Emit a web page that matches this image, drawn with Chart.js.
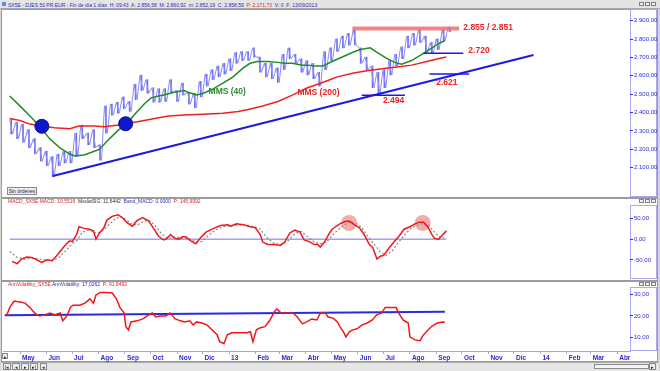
<!DOCTYPE html>
<html lang="es">
<head>
<meta charset="utf-8">
<title>SX5E - DJES 50 PR.EUR</title>
<script src="https://cdn.jsdelivr.net/npm/chart.js@4.4.1/dist/chart.umd.min.js"></script>
<style>
  html, body { margin: 0; padding: 0; }
  body {
    position: relative; width: 660px; height: 371px; overflow: hidden;
    background: #d6d6d6; font-family: 'Liberation Sans', Arial, sans-serif;
  }
  .box { position: absolute; box-sizing: border-box; }
  .panel { background: #fff; border: 1px solid #9c9c9c; }
  .axisbox { border: 1px solid #a9a9f4; }
  canvas { position: absolute; left: 0; }
  .head { position: absolute; left: 8px; font-size: 5px; line-height: 6px; white-space: nowrap; color: #2a2ac8; }
  .red { color: #e61e1e; }
  .dark { color: #303030; }
  .ico { position: absolute; width: 5px; height: 4px; border: 1px solid #808080; background: #f0f0f0; box-sizing: border-box; }
  .btn { position: absolute; box-sizing: border-box; border: 1px solid #8a8a8a; background: #ececec;
         font-size: 5px; line-height: 6px; text-align: center; color: #202060; }
</style>
</head>
<body>
<div class="box" style="left:0;top:0;width:660px;height:9px;background:#e4e4e4;border-bottom:1px solid #a8a8a8"></div>
<div class="box" style="left:2px;top:2px;width:4px;height:4px;background:#6a8ad0"></div>
<div class="box panel" style="left:1px;top:9px;width:657px;height:189px"></div>
<div class="box panel" style="left:1px;top:198px;width:657px;height:83px"></div>
<div class="box panel" style="left:1px;top:281px;width:657px;height:81px"></div>
<div class="box axisbox" style="left:630px;top:9px;width:27px;height:188px"></div>
<div class="box axisbox" style="left:630px;top:205px;width:27px;height:74px"></div>
<div class="box axisbox" style="left:630px;top:287px;width:27px;height:64px"></div>
<div class="box" style="left:1px;top:362px;width:658px;height:9px;background:#e6e6e6;border-top:1px solid #a8a8a8"></div>

<canvas id="cPrecio" width="660" height="188" style="top:9px"></canvas>
<canvas id="cMacd" width="660" height="82" style="top:198px"></canvas>
<canvas id="cVol" width="660" height="79" style="top:283px"></canvas>

<div class="head" style="top:2px">SX5E - DJES 50 PR.EUR - Fin de día 1 días&nbsp; H: 09:43&nbsp; A: 2.856,58&nbsp; M: 2.860,92&nbsp; m: 2.852,19&nbsp; C: 2.858,59&nbsp; <span class="red">P: 2.171,73</span>&nbsp; V: 0&nbsp; F: 13/09/2013</div>
<div class="head" style="top:198px"><span class="red">MACD_SX5E MACD: 19,5516</span>&nbsp; <span class="dark">MediaSIG: 11,6442</span>&nbsp; Band_MACD: 0,0000&nbsp; <span class="red">P: 145,9992</span></div>
<div class="head" style="top:281px"><span class="red">AnnVolatility_SX5E</span> AnnVolatility: 17,0262&nbsp; <span class="red">P: 91,9492</span></div>

<div class="ico" style="left:639px;top:2px"></div><div class="ico" style="left:645px;top:2px"></div><div class="ico" style="left:651px;top:2px"></div>
<div class="ico" style="left:639px;top:199px"></div><div class="ico" style="left:645px;top:199px"></div><div class="ico" style="left:651px;top:199px"></div>
<div class="ico" style="left:639px;top:282px"></div><div class="ico" style="left:645px;top:282px"></div><div class="ico" style="left:651px;top:282px"></div>

<div class="btn" style="left:7px;top:187px;width:30px;height:8px">Sin órdenes</div>
<div class="btn" style="left:2px;top:353px;width:6px;height:6px">▸</div>
<div class="btn" style="left:3px;top:363px;width:8px;height:7px">|◂</div>
<div class="btn" style="left:12px;top:363px;width:8px;height:7px">◂</div>
<div class="btn" style="left:21px;top:363px;width:8px;height:7px">▸</div>
<div class="btn" style="left:30px;top:363px;width:8px;height:7px">▸|</div>
<div class="btn" style="left:40px;top:363px;width:7px;height:7px">◂</div>
<div class="btn" style="left:594px;top:364px;width:55px;height:5px;background:#f4f4f4"></div>
<div class="btn" style="left:649px;top:363px;width:7px;height:7px">▸</div>

<script>
  // eje x en días desde el 13/04/2012
  const DAY0 = Date.UTC(2012, 3, 13);
  const X_MIN = -2, X_MAX = 733;

  const monthLabels = ['May', 'Jun', 'Jul', 'Ago', 'Sep', 'Oct', 'Nov', 'Dic', '13', 'Feb', 'Mar', 'Abr',
                       'May', 'Jun', 'Jul', 'Ago', 'Sep', 'Oct', 'Nov', 'Dic', '14', 'Feb', 'Mar', 'Abr'];
  const monthDays = monthLabels.map((_, i) => (Date.UTC(2012, 4 + i, 1) - DAY0) / 864e5);

  const priceTicks = [2100, 2200, 2300, 2400, 2500, 2600, 2700, 2800, 2900];
  const macdTicks = [-50, 0, 50];
  const volTicks = [10, 20, 30];

  // cotización: máximo y mínimo de cada semana (una lectura cada 7 días)
  const priceHigh = [2362, 2347, 2337, 2307, 2258, 2209, 2189, 2160, 2174, 2189,
                     2189, 2288, 2332, 2288, 2307, 2224, 2436, 2446, 2456, 2485,
                     2460, 2554, 2604, 2579, 2535, 2530, 2530, 2579, 2520, 2560,
                     2510, 2505, 2569, 2609, 2633, 2653, 2668, 2693, 2727, 2732,
                     2732, 2752, 2702, 2668, 2668, 2643, 2717, 2752, 2717, 2693,
                     2683, 2668, 2619, 2732, 2752, 2801, 2816, 2831, 2851, 2752,
                     2702, 2653, 2619, 2633, 2683, 2717, 2757, 2816, 2831, 2851,
                     2816, 2781, 2801, 2850, 2866];
  const priceLow = [2283, 2258, 2238, 2209, 2174, 2135, 2110, 2050, 2110, 2125,
                    2125, 2160, 2258, 2224, 2209, 2140, 2288, 2386, 2396, 2421,
                    2406, 2470, 2520, 2505, 2456, 2456, 2460, 2505, 2460, 2495,
                    2446, 2426, 2485, 2544, 2579, 2594, 2609, 2628, 2668, 2683,
                    2683, 2702, 2619, 2594, 2584, 2564, 2633, 2693, 2668, 2619,
                    2604, 2584, 2544, 2633, 2683, 2732, 2752, 2767, 2767, 2668,
                    2633, 2535, 2495, 2535, 2604, 2653, 2693, 2752, 2767, 2781,
                    2727, 2722, 2742, 2790, 2840];

  const mms40Days = [0, 12, 24, 36, 47, 59, 71, 77, 88, 100, 106, 118, 129, 138, 147, 159, 167, 176, 182, 194,
                     206, 211, 221, 229, 241, 252, 264, 276, 284, 293, 305, 317, 325, 334, 346, 352, 361, 370, 381, 393,
                     405, 413, 426, 434, 446, 455, 463, 475, 487, 499, 507, 514];
  const mms40Values = [2490, 2436, 2381, 2322, 2258, 2209, 2174, 2164, 2169, 2189, 2199, 2258, 2307, 2337, 2386, 2446, 2480, 2490, 2495, 2510,
                       2520, 2510, 2495, 2505, 2530, 2560, 2594, 2643, 2668, 2678, 2678, 2673, 2668, 2668, 2658, 2658, 2653, 2653, 2678, 2702,
                       2727, 2742, 2752, 2727, 2693, 2673, 2663, 2683, 2717, 2752, 2776, 2791];

  const mms200Days = [0, 12, 24, 36, 53, 71, 82, 100, 112, 129, 141, 159, 176, 188, 206, 229, 252, 270, 282, 299,
                      317, 334, 343, 352, 364, 376, 387, 405, 422, 440, 458, 475, 493, 506, 516];
  const mms200Values = [2367, 2357, 2337, 2327, 2317, 2312, 2327, 2327, 2322, 2332, 2342, 2357, 2372, 2381, 2386, 2391, 2396, 2406, 2416, 2436,
                        2460, 2495, 2515, 2535, 2554, 2574, 2594, 2614, 2628, 2638, 2648, 2658, 2678, 2693, 2702];

  // líneas dibujadas a mano sobre el gráfico
  const trendDays = [51, 619];
  const trendValues = [2054, 2713];
  const resistDays = [405, 531];
  const resistValues = [2858, 2858];
  const level2720Days = [489, 536];
  const level2720Values = [2723, 2723];
  const level2621Days = [496, 543];
  const level2621Values = [2610, 2610];
  const level2494Days = [416, 467];
  const level2494Values = [2494, 2494];
  const crossDays = [38, 137];
  const crossValues = [2325, 2339];

  const noteTexts = ['MMS (40)', 'MMS (200)', '2.855 / 2.851', '2.720', '2.621', '2.494'];
  const noteDays = [235, 340, 536, 542, 504, 441];
  const noteValues = [2512, 2507, 2861, 2738, 2561, 2467];
  const noteColors = ['#2e8b2e', '#ee2222', '#ee2222', '#ee2222', '#ee2222', '#ee2222'];

  const macdDays = [3, 9, 14, 20, 26, 32, 38, 44, 50, 55, 61, 67, 71, 74, 79, 82, 88, 94, 99, 102,
                    106, 111, 115, 121, 128, 133, 139, 145, 150, 157, 164, 170, 176, 182, 186, 190, 195, 200, 204, 208,
                    214, 220, 225, 232, 241, 249, 258, 261, 268, 276, 284, 290, 296, 299, 305, 313, 320, 325, 331, 337,
                    343, 348, 354, 360, 364, 367, 372, 378, 381, 390, 397, 402, 407, 413, 419, 425, 429, 434, 438, 442,
                    448, 454, 460, 466, 473, 479, 484, 489, 494, 499, 502, 507, 510, 516];
  const macdValues = [-54, -59, -48, -43, -44, -50, -56, -50, -52, -41, -26, -11, -4, -6, 11, 30, 26, 24, 20, 0,
                      15, 26, 46, 55, 59, 52, 39, 31, 44, 52, 44, 26, 7, -2, 2, 11, 2, 0, 6, 6,
                      -4, -11, 2, 17, 26, 33, 35, 31, 37, 35, 30, 28, 11, -7, -13, -13, -15, -7, 15, 22,
                      17, -2, -6, -13, -13, -19, -7, 15, 24, 37, 43, 43, 35, 28, 11, -13, -20, -48, -41, -39,
                      -22, -7, 7, 24, 30, 37, 41, 41, 30, 11, 2, 0, 7, 20];
  const signalDays = [0, 9, 18, 30, 41, 51, 59, 67, 74, 80, 86, 94, 102, 108, 115, 123, 130, 137, 145, 152,
                      159, 166, 173, 180, 188, 196, 203, 211, 220, 227, 235, 243, 252, 264, 276, 287, 296, 303, 311, 320,
                      329, 337, 344, 352, 360, 367, 375, 384, 393, 401, 409, 416, 423, 431, 438, 445, 452, 459, 466, 473,
                      481, 489, 496, 503, 510, 516];
  const signalValues = [-30, -44, -48, -46, -50, -52, -43, -26, -11, -2, 17, 22, 15, 17, 30, 46, 55, 48, 35, 35,
                        44, 44, 30, 11, 2, 6, 2, 2, -6, -6, 9, 22, 30, 33, 35, 31, 24, 6, -9, -13,
                        -4, 13, 19, 6, -7, -11, -6, 15, 31, 41, 39, 28, 7, -13, -31, -39, -28, -9, 9, 24,
                        33, 39, 31, 15, 2, 6];
  const bandDays = [0, 516];
  const bandValues = [0, 0];
  const peakDays = [401, 488];
  const peakValues = [39, 39];

  const volDays = [2, 6, 11, 18, 24, 30, 36, 41, 47, 53, 59, 65, 68, 73, 77, 80, 88, 94, 100, 104,
                   107, 112, 118, 126, 131, 135, 140, 142, 145, 148, 155, 162, 167, 173, 177, 182, 189, 194, 200, 206,
                   211, 217, 221, 225, 231, 237, 243, 249, 252, 257, 261, 266, 276, 284, 288, 291, 295, 299, 305, 311,
                   316, 319, 324, 331, 338, 343, 349, 354, 360, 366, 370, 376, 379, 385, 390, 393, 397, 400, 404, 408,
                   413, 419, 425, 431, 436, 442, 446, 454, 459, 461, 467, 473, 475, 481, 487, 490, 495, 501, 507, 513, 516];
  const volValues = [20, 24, 27, 26.5, 26, 23.7, 21, 20, 20.5, 21.4, 20.5, 21.4, 17.7, 20, 24, 25, 25, 26, 28, 26,
                     29.8, 31, 31, 30.7, 28, 24, 21.4, 15, 13.5, 17.2, 17.7, 18.6, 20, 21.4, 19.5, 20, 20, 21.4, 18.6, 17.7,
                     17.2, 17.7, 15.8, 17.2, 16.7, 15.8, 13.5, 11.2, 8, 7, 11.2, 12.1, 12.1, 12.1, 12.6, 8, 13.5, 14.4, 15, 18.1,
                     21.9, 23.3, 21.4, 21.4, 21.4, 19.5, 16.3, 17.2, 18.6, 18.1, 21.4, 21.4, 19.5, 19, 17.2, 15, 12.6, 10.2, 12.6, 13.5,
                     14, 15.8, 16.7, 18.1, 20.5, 21.4, 24, 24, 24, 21.9, 18.1, 16.7, 10.2, 8.8, 8.4, 10.7, 13, 15.3, 16.7, 17.2, 17];
  const volLineDays = [0, 516];
  const volLineValues = [20.3, 21.9];

  const AXIS_BLUE = '#2b2bd6';
  const LAVENDER = '#a3a3f2';
  Chart.defaults.font.family = "'Liberation Sans', Arial, sans-serif";

  function pts(days, values) {
    return days.map((d, i) => ({ x: d, y: values[i] }));
  }

  // barras semanales: zigzag máximo -> mínimo y una barra vertical por semana
  const pricePoints = [];
  const priceBars = [];
  priceHigh.forEach((h, i) => {
    pricePoints.push({ x: i * 7, y: h });
    pricePoints.push({ x: i * 7 + 3.5, y: priceLow[i] });
    priceBars.push({ x: i * 7 + 1.75, y: [priceLow[i], h] });
  });

  function fmtNum(v) {
    return Number(v).toLocaleString('de-DE', { minimumFractionDigits: 2, maximumFractionDigits: 2 });
  }

  function xScale(show) {
    return {
      type: 'linear', min: X_MIN, max: X_MAX, display: show, offset: false,
      afterBuildTicks: s => { s.ticks = monthDays.map(v => ({ value: v })); },
      afterFit: s => { s.height = 11; s.paddingLeft = 0; s.paddingRight = 0; },
      ticks: {
        autoSkip: false, maxRotation: 0, align: 'start', labelOffset: 2, padding: 0,
        color: AXIS_BLUE, font: { size: 6.5, weight: 'bold' },
        callback: (v, i) => monthLabels[i]
      },
      grid: { drawOnChartArea: false, tickLength: 3, color: LAVENDER, offset: false },
      border: { color: LAVENDER }
    };
  }

  function yScale(min, max, tickValues) {
    return {
      position: 'right', min, max,
      afterBuildTicks: s => { s.ticks = tickValues.map(v => ({ value: v })); },
      afterFit: s => { s.width = 27; s.paddingTop = 0; s.paddingBottom = 0; },
      ticks: { color: AXIS_BLUE, font: { size: 6 }, padding: 1, callback: v => fmtNum(v) },
      grid: { drawOnChartArea: false, tickLength: 3, color: AXIS_BLUE },
      border: { display: false }
    };
  }

  function baseOptions(yMin, yMax, yTicks, showX) {
    return {
      responsive: false, animation: false, devicePixelRatio: 1,
      layout: { padding: { left: 3, right: 3, top: 0, bottom: 0 } },
      elements: { point: { radius: 0, hitRadius: 0 }, line: { tension: 0, borderWidth: 1.5 } },
      plugins: { legend: { display: false }, tooltip: { enabled: false } },
      scales: { x: xScale(showX), y: yScale(yMin, yMax, yTicks) }
    };
  }

  const notesPlugin = {
    id: 'notes',
    afterDatasetsDraw(chart) {
      const { ctx } = chart;
      const xs = chart.scales.x, ys = chart.scales.y;
      ctx.save();
      ctx.textBaseline = 'middle';
      ctx.font = "bold 8.5px 'Liberation Sans', Arial, sans-serif";
      noteTexts.forEach((t, i) => {
        ctx.fillStyle = noteColors[i];
        ctx.fillText(t, xs.getPixelForValue(noteDays[i]), ys.getPixelForValue(noteValues[i]));
      });
      ctx.restore();
    }
  };

  // panel principal
  new Chart(document.getElementById('cPrecio'), {
    type: 'line',
    data: {
      datasets: [
        { label: 'Cruces', data: pts(crossDays, crossValues), showLine: false,
          pointRadius: 7, pointBackgroundColor: '#0b18cc', pointBorderColor: '#0a1090', pointBorderWidth: 1 },
        { label: 'Directriz', data: pts(trendDays, trendValues), borderColor: '#1a1ae6', borderWidth: 2 },
        { label: '2.494', data: pts(level2494Days, level2494Values), borderColor: '#1a1ae6', borderWidth: 1.5 },
        { label: '2.621', data: pts(level2621Days, level2621Values), borderColor: '#1a1ae6', borderWidth: 1.5 },
        { label: '2.720', data: pts(level2720Days, level2720Values), borderColor: '#1a1ae6', borderWidth: 1.5 },
        { label: 'Resistencia', data: pts(resistDays, resistValues), borderColor: 'rgba(240,110,110,0.85)', borderWidth: 4 },
        { label: 'MMS (40)', data: pts(mms40Days, mms40Values), borderColor: '#228b22' },
        { label: 'MMS (200)', data: pts(mms200Days, mms200Values), borderColor: '#f02020' },
        { label: 'SX5E', data: pricePoints, borderColor: '#8c8cf7', borderWidth: 1 },
        { type: 'bar', label: 'SX5E rango', data: priceBars, backgroundColor: '#6e6ef2',
          barThickness: 1, grouped: false, borderWidth: 0 }
      ]
    },
    options: baseOptions(2000, 2920, priceTicks, false),
    plugins: [notesPlugin]
  });

  // MACD
  new Chart(document.getElementById('cMacd'), {
    type: 'line',
    data: {
      datasets: [
        { label: 'MACD', data: pts(macdDays, macdValues), borderColor: '#f01818' },
        { label: 'MediaSIG', data: pts(signalDays, signalValues), borderColor: '#8a8a8a', borderWidth: 1.2, borderDash: [2, 2] },
        { label: 'Band_MACD', data: pts(bandDays, bandValues), borderColor: '#7272f0', borderWidth: 1 },
        { label: 'Máximos', data: pts(peakDays, peakValues), showLine: false,
          pointRadius: 8, pointBackgroundColor: 'rgba(240,100,100,0.55)', pointBorderWidth: 0 }
      ]
    },
    options: baseOptions(-72, 80, macdTicks, false)
  });

  // volatilidad anualizada
  new Chart(document.getElementById('cVol'), {
    type: 'line',
    data: {
      datasets: [
        { label: 'AnnVolatility', data: pts(volDays, volValues), borderColor: '#f01818' },
        { label: 'Nivel', data: pts(volLineDays, volLineValues), borderColor: '#2a2ae0', borderWidth: 2 }
      ]
    },
    options: baseOptions(3.6, 35.4, volTicks, true)
  });
</script>
</body>
</html>
